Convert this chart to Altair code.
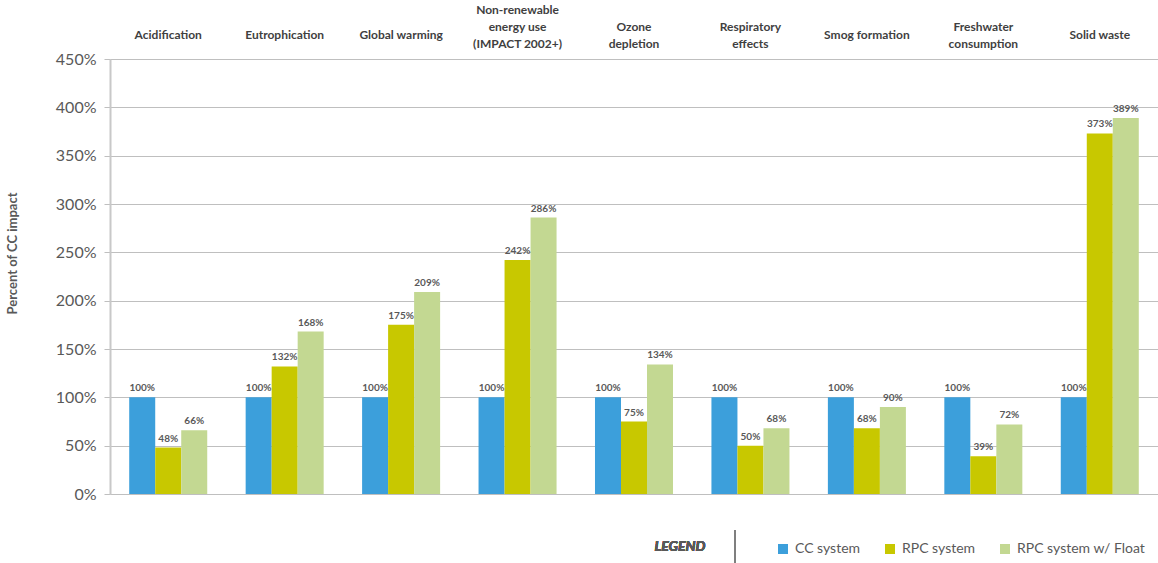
import altair as alt
import pandas as pd

categories = ["Acidification", "Eutrophication", "Global warming",
              "Non-renewable energy use (IMPACT 2002+)", "Ozone depletion",
              "Respiratory effects", "Smog formation", "Freshwater consumption",
              "Solid waste"]
header_labels = ["Acidification", "Eutrophication", "Global warming",
                 "Non-renewable\nenergy use\n(IMPACT 2002+)", "Ozone\ndepletion",
                 "Respiratory\neffects", "Smog formation", "Freshwater\nconsumption",
                 "Solid waste"]
series = ["CC system", "RPC system", "RPC system w/ Float"]
cc_values = [100, 100, 100, 100, 100, 100, 100, 100, 100]
rpc_values = [48, 132, 175, 242, 75, 50, 68, 39, 373]
float_values = [66, 168, 209, 286, 134, 68, 90, 72, 389]
colors = ["#3C9FDB", "#C8C800", "#C3D892"]
y_ticks = [0, 50, 100, 150, 200, 250, 300, 350, 400, 450]

rows = []
for s, vals in zip(series, [cc_values, rpc_values, float_values]):
    for c, v in zip(categories, vals):
        rows.append({"category": c, "series": s, "value": v})
df = pd.DataFrame(rows)
hdr = pd.DataFrame({"category": categories, "label": header_labels})
hdr["lines"] = hdr["label"].str.count("\n") + 1

FONT = "Lato"
TXT = "#595959"

x_enc = alt.X("category:N", sort=categories, axis=None,
              scale=alt.Scale(paddingInner=0.33, paddingOuter=0.165))
y_enc = alt.Y("value:Q", scale=alt.Scale(domain=[0, 450], nice=False),
              axis=alt.Axis(values=y_ticks, labelExpr="datum.value + '%'",
                            title="Percent of CC impact", titleFont=FONT,
                            titleFontSize=13, titleFontWeight="bold", titleColor=TXT,
                            titleX=-98, titleY=194, titleAngle=-90,
                            titleBaseline="middle",
                            labelFont=FONT, labelFontSize=16, labelColor=TXT,
                            labelPadding=8, gridColor="#BFBFBF", gridWidth=1,
                            tickColor="#BFBFBF", tickSize=6, domainColor="#C8C8C8",
                            domainWidth=2))

base = alt.Chart(df)
bars = base.mark_bar().encode(
    x=x_enc,
    xOffset=alt.XOffset("series:N", sort=series),
    y=y_enc,
    color=alt.Color("series:N", sort=series,
                    scale=alt.Scale(domain=series, range=colors),
                    legend=alt.Legend(orient="none", legendX=666, legendY=483,
                                      direction="horizontal", title=None,
                                      symbolType="square", symbolSize=100,
                                      symbolStrokeWidth=0, labelFont=FONT,
                                      labelFontSize=14, labelColor=TXT,
                                      columnPadding=22, labelOffset=5)),
)
labels = base.mark_text(font=FONT, fontSize=10, fontWeight="bold", color=TXT,
                        baseline="bottom", dy=-4).encode(
    x=x_enc,
    xOffset=alt.XOffset("series:N", sort=series),
    y=alt.Y("value:Q"),
    text=alt.Text("label:N"),
).transform_calculate(label="datum.value + '%'")


def header_layer(n, y):
    return alt.Chart(hdr).transform_filter(f"datum.lines == {n}").mark_text(
        font=FONT, fontSize=12, fontWeight="bold", color="#3F3F3F",
        baseline="middle", lineBreak="\n", lineHeight=17
    ).encode(x=alt.X("category:N", sort=categories), y=alt.value(y), text="label:N")


h1 = header_layer(1, -24)
h2 = header_layer(2, -32)
h3 = header_layer(3, -49)

legend_title = alt.Chart(hdr).mark_text(
    font=FONT, fontSize=14, fontWeight="bold", fontStyle="italic", color=TXT,
    align="center", baseline="middle"
).encode(x=alt.value(570), y=alt.value(488), text=alt.value("LEGEND"))

legend_rule = alt.Chart(hdr).mark_rule(color="#7F7F7F", strokeWidth=2).encode(
    x=alt.value(625), y=alt.value(471), y2=alt.value(504))

chart = alt.layer(bars, labels, h1, h2, h3, legend_title,
                  legend_rule).resolve_scale(x="shared").properties(
    width=1048, height=435,
    autosize=alt.AutoSizeParams(type="none"),
    padding={"left": 110, "top": 59, "right": 0, "bottom": 69},
).configure_view(stroke=None).configure(background="white")

chart.save("out.html", embed_options={"renderer": "svg", "actions": False})
